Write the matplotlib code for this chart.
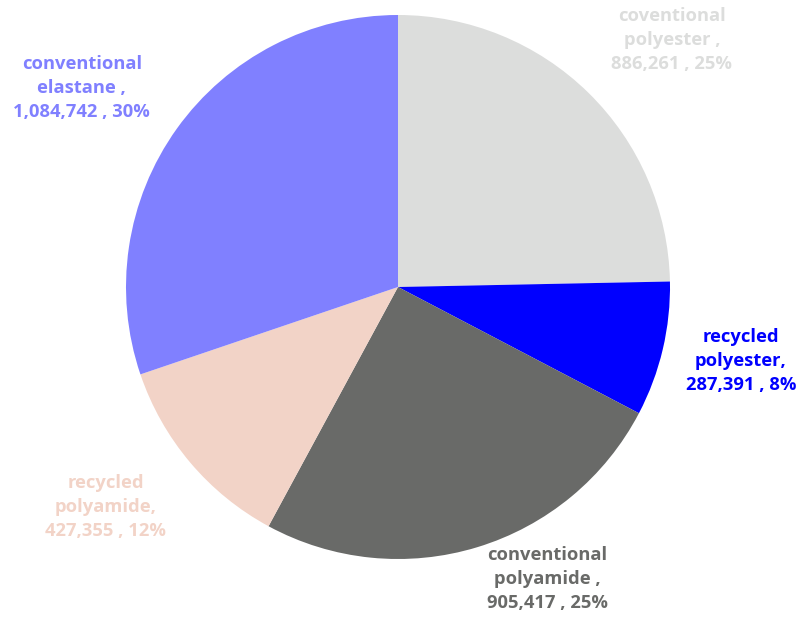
import matplotlib
matplotlib.use("Agg")
import matplotlib.pyplot as plt

categories = ["conventional polyester", "recycled polyester", "conventional polyamide",
              "recycled polyamide", "conventional elastane"]
values = [886261, 287391, 905417, 427355, 1084742]
label_texts = ["coventional\npolyester ,\n886,261 , 25%",
               "recycled\npolyester,\n287,391 , 8%",
               "conventional\npolyamide ,\n905,417 , 25%",
               "recycled\npolyamide,\n427,355 , 12%",
               "conventional\nelastane ,\n1,084,742 , 30%"]
colors = ["#DCDDDC", "#0000FF", "#696A68", "#F2D3C7", "#8080FF"]
text_colors = ["#DCDDDC", "#0000FF", "#696A68", "#F2D3C7", "#8080FF"]
label_pos = [(1.007, 0.908), (1.261, -0.272), (0.548, -1.074), (-1.074, -0.809), (-1.162, 0.732)]

W, H = 805, 621
fig = plt.figure(figsize=(W / 100, H / 100), dpi=100)
cx, cy, r = 398, 287, 272
ax = fig.add_axes([(cx - r) / W, (H - cy - r) / H, 2 * r / W, 2 * r / H])
ax.pie(values, colors=colors, startangle=90, counterclock=False, radius=1,
       wedgeprops=dict(linewidth=0))
ax.set_xlim(-1, 1)
ax.set_ylim(-1, 1)
ax.set_aspect("equal")
ax.axis("off")
for txt, c, (x, y) in zip(label_texts, text_colors, label_pos):
    ax.text(x, y, txt, ha="center", va="center", color=c, fontsize=13.2,
            fontweight="bold", family=["Open Sans", "DejaVu Sans"], linespacing=1.42,
            clip_on=False)
fig.savefig("out.png", dpi=100)
